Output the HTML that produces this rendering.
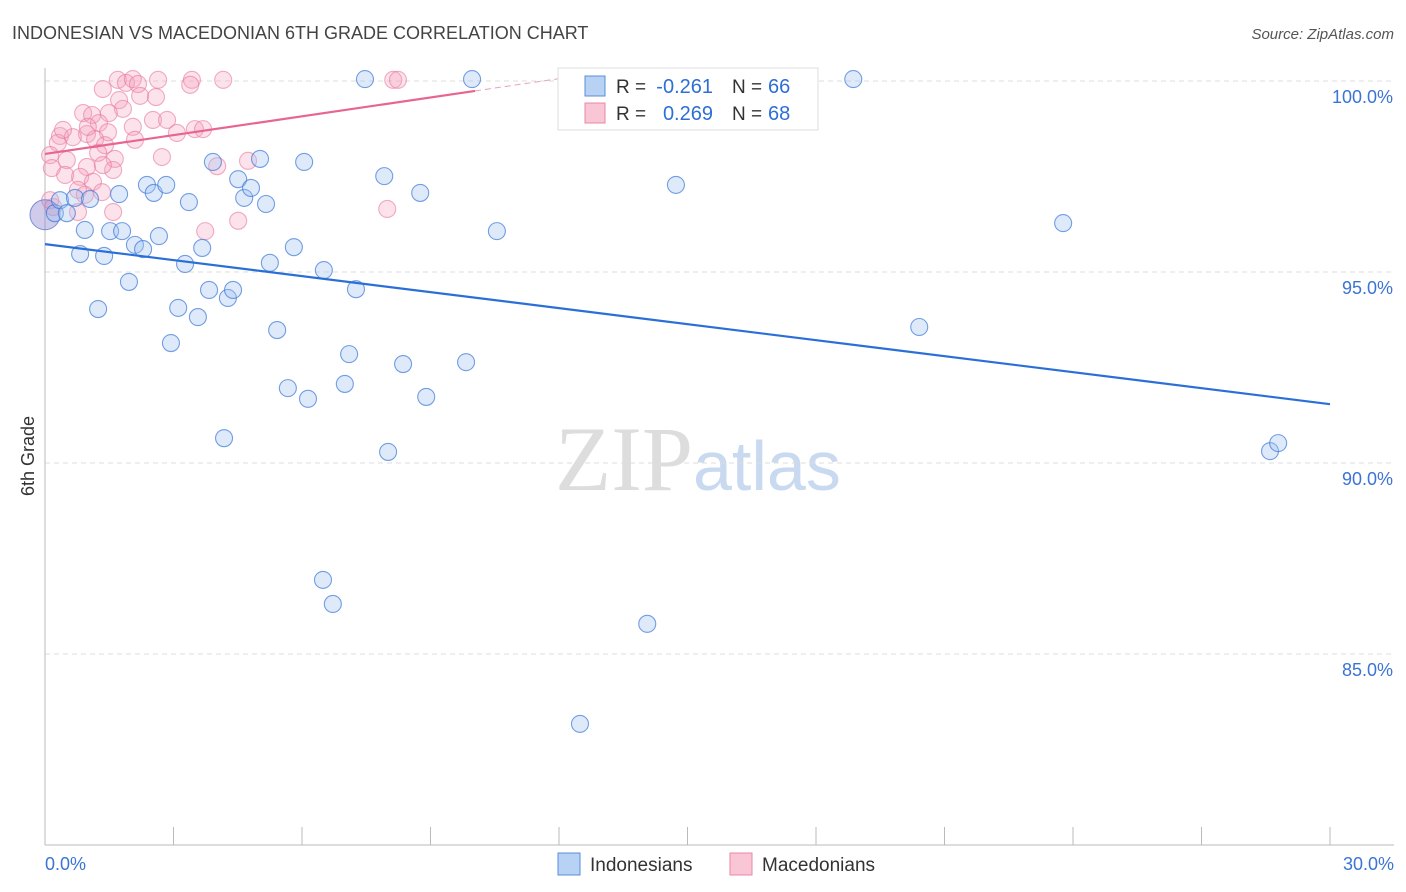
<!DOCTYPE html>
<html><head><meta charset="utf-8"><style>
body{margin:0;background:#fff;width:1406px;height:892px;overflow:hidden;font-family:"Liberation Sans",sans-serif}
</style></head><body>
<svg id="chart" width="1406" height="892" xmlns="http://www.w3.org/2000/svg" style="position:absolute;left:0;top:0">
<text x="12" y="39" font-size="18" fill="#444" font-family="Liberation Sans, sans-serif">INDONESIAN VS MACEDONIAN 6TH GRADE CORRELATION CHART</text>
<text x="1394" y="39" font-size="15" fill="#555" font-style="italic" text-anchor="end">Source: ZipAtlas.com</text>
<text x="555" y="490" font-size="92" fill="#ddd" font-family="Liberation Serif, serif">ZIP<tspan fill="#c9d9f0" font-family="Liberation Sans, sans-serif" font-size="70">atlas</tspan></text>
<g id="grid"></g><g id="axes"></g><g id="marks"></g>
<text transform="translate(34,456) rotate(-90)" font-size="18" fill="#333" text-anchor="middle">6th Grade</text>
<g>
<rect x="558" y="68" width="260" height="62" fill="#fff" stroke="#ddd"/>
<rect x="585" y="76" width="20" height="20" fill="#b8d2f3" stroke="#5a8fd8"/>
<rect x="585" y="103" width="20" height="20" fill="#f9c6d5" stroke="#e888a6"/>
<text x="616" y="93" font-size="19" fill="#333">R =</text>
<text x="713" y="93" font-size="20" fill="#2d6fd6" text-anchor="end">-0.261</text>
<text x="732" y="93" font-size="19" fill="#333">N =</text>
<text x="768" y="93" font-size="20" fill="#2d6fd6">66</text>
<text x="616" y="120" font-size="19" fill="#333">R =</text>
<text x="713" y="120" font-size="20" fill="#2d6fd6" text-anchor="end">0.269</text>
<text x="732" y="120" font-size="19" fill="#333">N =</text>
<text x="768" y="120" font-size="20" fill="#2d6fd6">68</text>
</g>
<g><rect x="558" y="853" width="22" height="22" fill="#b8d2f3" stroke="#5a8fd8"/><text x="590" y="871" font-size="19" fill="#333">Indonesians</text></g>
<g><rect x="730" y="853" width="22" height="22" fill="#f9c6d5" stroke="#e888a6"/><text x="762" y="871" font-size="19" fill="#333">Macedonians</text></g>
</svg>
<script>
const xTicks=[0,3,6,9,12,15,18,21,24,27,30];
const yTicks=[100,95,90,85];
const yTickLabels=["100.0%","95.0%","90.0%","85.0%"];
const xEndLabels=["0.0%","30.0%"];
const blueX=[0.23,0.35,0.51,0.70,0.93,1.05,0.82,1.38,1.24,1.52,1.73,1.80,1.96,2.10,2.29,2.38,2.54,2.66,2.83,2.94,3.11,3.27,3.36,3.57,3.67,3.83,3.92,4.18,4.27,4.39,4.51,4.65,4.81,5.02,5.16,5.25,5.42,5.67,5.81,6.05,6.14,6.49,6.51,6.72,7.00,7.10,7.26,7.47,7.92,8.01,8.36,8.76,8.90,9.83,9.97,10.55,12.49,14.06,14.73,18.87,20.41,23.77,28.60,28.79];
const blueY=[96.54,96.88,96.54,96.94,96.10,96.91,95.47,95.42,94.03,96.07,97.04,96.07,94.74,95.71,95.60,97.28,97.07,95.94,97.28,93.14,94.06,95.21,96.83,93.82,95.63,94.53,97.88,90.65,94.32,94.53,97.43,96.94,97.20,97.96,96.78,95.24,93.48,91.96,95.65,97.88,91.68,86.94,95.05,86.31,92.07,92.85,94.55,100.05,97.51,90.29,92.59,97.07,91.73,92.64,100.05,96.07,83.17,85.79,97.28,100.05,93.56,96.28,90.31,90.52];
const pinkX=[1.70,1.89,2.05,2.17,2.64,1.35,2.22,2.59,3.43,3.39,4.16,8.13,8.24,1.73,1.82,0.89,1.10,1.49,1.26,2.52,2.85,2.05,0.98,0.35,1.47,3.08,3.50,3.69,0.65,2.10,1.17,1.40,0.30,0.12,1.24,1.63,2.73,0.51,0.98,0.16,1.59,1.35,0.47,0.82,1.12,0.77,1.33,0.93,4.02,4.74,1.59,0.77,0.19,0.12,7.99,4.51,3.74,1.00,0.42];
const pinkY=[100.03,99.95,100.05,99.92,100.03,99.79,99.61,99.58,100.03,99.90,100.03,100.03,100.03,99.50,99.27,99.16,99.11,99.16,98.90,98.98,98.98,98.80,98.61,98.56,98.66,98.64,98.74,98.74,98.53,98.46,98.48,98.32,98.38,98.06,98.12,97.96,98.01,97.93,97.75,97.72,97.67,97.80,97.54,97.49,97.36,97.15,97.09,97.02,97.77,97.91,96.57,96.57,96.70,96.88,96.65,96.34,96.07,98.80,98.72];
const blueTrend=[95.73,91.54];
const pinkTrend=[98.09,99.74];
const pinkTrendEnd=10.04;

const NS="http://www.w3.org/2000/svg";
const sx=v=>45+v*(1285/30);
const sy=v=>81+(100-v)*38.2;
function mk(tag,attrs,parent){const e=document.createElementNS(NS,tag);for(const k in attrs)e.setAttribute(k,attrs[k]);parent.appendChild(e);return e;}
const grid=document.getElementById('grid'),axes=document.getElementById('axes'),marks=document.getElementById('marks');
yTicks.forEach((t,i)=>{
  const l=mk('line',{x1:45,x2:1394,y1:sy(t),y2:sy(t),stroke:'#ddd','stroke-dasharray':'5,4'},grid);
  
  
  const tx=mk('text',{x:1393,y:sy(t)+22,'font-size':18,fill:'#3b74d4','text-anchor':'end'},axes);
  tx.textContent=yTickLabels[i];
  
  
});
const ax=mk('line',{x1:45,x2:1394,y1:845,y2:845,stroke:'#bbb'},axes);


const ay=mk('line',{x1:45,x2:45,y1:68,y2:845,stroke:'#bbb'},axes);


xTicks.forEach(t=>{
  const l=mk('line',{x1:sx(t),x2:sx(t),y1:827,y2:845,stroke:'#bbb'},axes);
  
  
});
[[0,'start',45],[30,'end',1394]].forEach((d,i)=>{
  const tx=mk('text',{x:d[2],y:870,'font-size':18,fill:'#3b74d4','text-anchor':d[1]},axes);
  tx.textContent=xEndLabels[i];
  
  
});
pinkX.forEach((x,i)=>{
  const c=mk('circle',{cx:sx(x),cy:sy(pinkY[i]),r:8.5,fill:'rgba(246,160,188,0.3)',stroke:'rgba(232,120,155,0.6)','stroke-width':1.1},marks);
  
  
});
const big=mk('circle',{cx:sx(0),cy:sy(96.5),r:15,fill:'rgba(150,140,210,0.45)',stroke:'rgba(90,120,210,0.8)'},marks);


blueX.forEach((x,i)=>{
  const c=mk('circle',{cx:sx(x),cy:sy(blueY[i]),r:8.5,fill:'rgba(160,196,240,0.35)',stroke:'rgba(60,120,215,0.7)','stroke-width':1.1},marks);
  
  
});
const bl=mk('line',{x1:sx(0),y1:sy(blueTrend[0]),x2:sx(30),y2:sy(blueTrend[1]),stroke:'#2a6fd8','stroke-width':2.2},marks);


const slope=(pinkTrend[1]-pinkTrend[0])/pinkTrendEnd;
const pl=mk('line',{x1:sx(0),y1:sy(pinkTrend[0]),x2:sx(pinkTrendEnd),y2:sy(pinkTrend[1]),stroke:'#e8658f','stroke-width':2.2},marks);


const pd=mk('line',{x1:sx(pinkTrendEnd),y1:sy(pinkTrend[1]),x2:sx(12),y2:sy(pinkTrend[0]+slope*12),stroke:'#e8a0b8','stroke-width':1,'stroke-dasharray':'6,4'},marks);


</script>
</body></html>
